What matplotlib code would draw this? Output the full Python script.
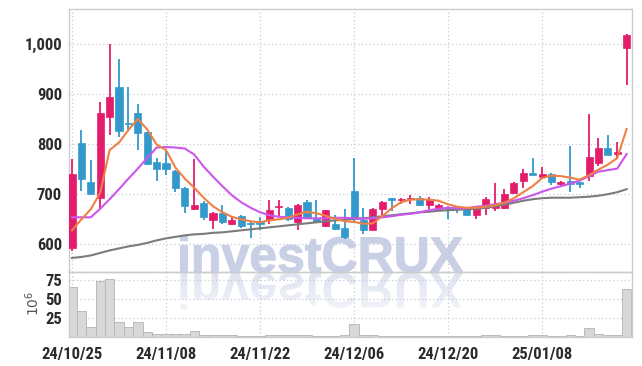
import numpy as np
import matplotlib.pyplot as plt
from matplotlib import font_manager
from matplotlib.textpath import TextPath
from matplotlib.patches import PathPatch
from matplotlib.font_manager import FontProperties
from matplotlib.transforms import Affine2D

# tick labels on the date axis (trading-day index -> label)
date_pos = [0, 10, 20, 30, 40, 50]
date_labels = ['24/10/25', '24/11/08', '24/11/22', '24/12/06', '24/12/20', '25/01/08']

opens = [592, 802, 725, 692, 853, 914, 842, 861, 823, 765,
         763, 747, 713, 670, 683, 649, 662, 641, 657, 641,
         643, 649, 674, 673, 645, 684, 653, 637, 640, 632,
         707, 648, 629, 670, 691, 688, 690, 693, 678, 668,
         674, 672, 670, 658, 673, 673, 673, 702, 726, 742,
         734, 741, 720, 727, 723, 736, 763, 792, 781, 991]
highs = [771, 827, 768, 884, 999, 970, 914, 880, 824, 773,
         788, 749, 715, 771, 687, 664, 678, 656, 658, 644,
         655, 688, 688, 674, 680, 689, 688, 669, 658, 671,
         773, 673, 673, 686, 692, 692, 699, 696, 695, 681,
         677, 676, 671, 674, 694, 723, 711, 724, 751, 773,
         754, 742, 726, 797, 725, 859, 811, 817, 804, 1019]
lows = [586, 706, 700, 670, 817, 814, 827, 789, 758, 726,
        739, 705, 662, 668, 648, 631, 641, 639, 632, 613,
        628, 641, 656, 646, 628, 652, 644, 635, 628, 610,
        642, 620, 628, 658, 666, 681, 681, 677, 671, 666,
        651, 663, 658, 651, 658, 666, 670, 700, 713, 738,
        733, 719, 716, 705, 713, 726, 756, 778, 772, 917]
closes = [741, 730, 701, 861, 894, 826, 839, 821, 760, 751,
          750, 712, 677, 679, 655, 662, 645, 648, 636, 640,
          641, 668, 677, 651, 679, 653, 645, 668, 631, 615,
          651, 628, 670, 685, 689, 691, 692, 678, 690, 679,
          671, 670, 659, 673, 691, 677, 701, 723, 742, 739,
          741, 724, 725, 721, 721, 774, 792, 779, 785, 1018]

ma5 = [628, 650, 670, 703, 788, 803, 828, 850, 829, 799,
       788, 753, 731, 713, 693, 676, 664, 655, 650, 646,
       644, 648, 650, 653, 660, 665, 662, 657, 651, 646,
       645, 641, 642, 656, 672, 684, 689, 690, 689, 687,
       680, 675, 673, 673, 675, 678, 683, 692, 704, 716,
       732, 737, 736, 733, 729, 738, 749, 759, 772, 830]
ma10 = [654, 654, 654, 671, 690, 710, 731, 751, 772, 793,
        794, 793, 791, 779, 755, 735, 716, 698, 684, 673,
        664, 658, 655, 654, 653, 652, 652, 652, 653, 653,
        652, 651, 652, 654, 656, 659, 661, 664, 668, 671,
        673, 672, 672, 675, 677, 680, 683, 687, 692, 698,
        705, 711, 716, 721, 727, 736, 745, 748, 751, 780]
ma_long = [573, 575, 578, 583, 588, 592, 596, 599, 603, 608,
           612, 615, 618, 620, 621, 623, 624, 626, 628, 630,
           632, 634, 636, 638, 640, 642, 644, 646, 648, 649,
           651, 652, 654, 656, 658, 660, 662, 664, 665, 667,
           668, 669, 670, 671, 673, 676, 679, 683, 687, 690,
           692, 693, 693, 693, 694, 695, 697, 700, 704, 710]

volume = [66, 34, 13, 73, 76, 19, 13, 19, 7, 4,
          4, 4, 4, 8.5, 3, 3, 2, 2, 1.5, 1.5,
          1.5, 2, 2, 2, 2, 2, 1.5, 1.5, 1.5, 2,
          17, 2, 2, 1.5, 1, 1, 1, 1, 1, 1,
          1, 1, 1, 1.5, 2, 2, 1.5, 1.5, 1.5, 2,
          2, 1, 1, 3, 1, 11.5, 4, 2.5, 2.5, 63]

UP = '#e31c6b'
DOWN = '#3399cc'
GRID = '#c8cade'
TXT = '#2b2b2b'
W, H = 642, 366

# pick a narrow bold font for the tick labels if one is around
tick_font = None
for fam, stretch in [('Liberation Sans Narrow', 'normal'), ('Roboto Condensed', 'normal'),
                     ('DejaVu Sans', 'condensed')]:
    try:
        fpath = font_manager.findfont(FontProperties(family=fam, stretch=stretch, weight='bold'),
                                      fallback_to_default=False)
        if fam != 'DejaVu Sans' or 'Condensed' in fpath:
            tick_font = FontProperties(fname=fpath, size=12)
            break
    except Exception:
        pass
if tick_font is None:
    tick_font = FontProperties(family='Roboto', weight='medium', size=10.5)

fig = plt.figure(figsize=(W / 100, H / 100), dpi=100)
fig.patch.set_facecolor('white')

def frac(l, t, r, b):
    return [l / W, 1 - b / H, (r - l) / W, (b - t) / H]

ax = fig.add_axes(frac(69, 9, 632, 272))
axv = fig.add_axes(frac(69, 272, 632, 337), sharex=ax)
for a in (ax, axv):
    a.set_facecolor('none')
    for s in a.spines.values():
        s.set_color('#cccccc')
        s.set_linewidth(1.0)
    a.grid(True, color=GRID, linestyle=(0, (1, 2)), linewidth=0.9)
    a.set_axisbelow(True)
    a.tick_params(length=0, colors=TXT, pad=5)

# watermark with reflection, drawn behind the axes
wm = fig.add_axes([0, 0, 1, 1], zorder=-1)
wm.set_xlim(0, W)
wm.set_ylim(H, 0)
wm.axis('off')
fp = FontProperties(family='Liberation Sans', weight='bold')
tp = TextPath((0, 0), 'investCRUX', size=50, prop=fp)
wm.add_patch(PathPatch(tp, transform=Affine2D().scale(1, -1).translate(177, 272) + wm.transData,
                       facecolor='#c9d0e5', edgecolor='#c9d0e5', linewidth=0.8))
refl = PathPatch(tp, transform=Affine2D().translate(177, 273) + wm.transData,
                 facecolor='none', edgecolor='none')
wm.add_patch(refl)
grad = np.linspace(0.6, 0.25, 64).reshape(-1, 1)
img = wm.imshow(np.dstack([np.full((64, 1), 0.79), np.full((64, 1), 0.82),
                           np.full((64, 1), 0.90), grad]),
                extent=(170, 470, 310, 273), aspect='auto', zorder=1)
img.set_clip_path(refl)

# candles
x = np.arange(len(closes))
o = np.array(opens)
c = np.array(closes)
colors = [UP if cc >= oo else DOWN for oo, cc in zip(o, c)]
ax.vlines(x, lows, highs, colors=colors, linewidth=1.3, zorder=2)
bottoms = np.minimum(o, c)
heights = np.maximum(np.abs(c - o), 3)
ax.bar(x, heights, bottom=bottoms, width=0.75, color=colors, edgecolor=colors,
       linewidth=0.5, zorder=3)

ax.plot(x, ma_long, color='#7b7b7b', linewidth=1.5, zorder=4)
ax.plot(x, ma10, color='#cc55ee', linewidth=1.5, zorder=4)
ax.plot(x, ma5, color='#ee8044', linewidth=1.5, zorder=4)

ax.set_ylim(545, 1069)
ax.set_yticks([600, 700, 800, 900, 1000])
ax.set_yticklabels([f'{v:,}' for v in [600, 700, 800, 900, 1000]], fontproperties=tick_font)
ax.set_xlim(-0.32, 59.57)
ax.tick_params(labelbottom=False)

axv.bar(x, volume, width=1.0, color='#d8d8d8', edgecolor='#b4b4b4', linewidth=0.6, zorder=2)
axv.set_ylim(0, 85)
axv.set_yticks([25, 50, 75])
axv.set_yticklabels(['25', '50', '75'], fontproperties=tick_font)
axv.set_xticks(date_pos)
axv.set_xticklabels(date_labels, fontproperties=tick_font)
axv.tick_params(axis='x', pad=7)
fig.text(33 / W, 1 - 303 / H, r'$10^6$', rotation=90, ha='center', va='center',
         fontsize=10, color='#555555', family='DejaVu Sans')

fig.savefig('out.png', dpi=100)
